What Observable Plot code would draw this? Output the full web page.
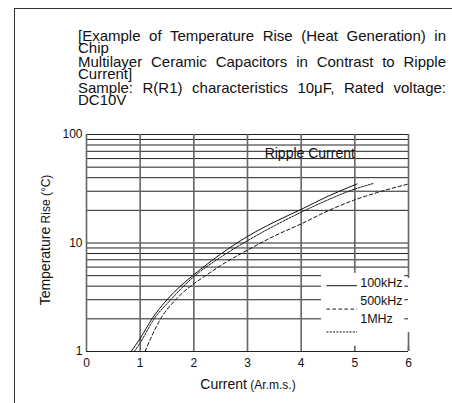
<!DOCTYPE html>
<html><head><meta charset="utf-8">
<script src="https://cdn.jsdelivr.net/npm/d3@7"></script>
<script src="https://cdn.jsdelivr.net/npm/@observablehq/plot@0.6"></script>
<style>
html,body{margin:0;padding:0;background:#fff;}
#wrap{position:relative;width:452px;height:403px;overflow:hidden;font-family:"Liberation Sans",Arial,sans-serif;}
#frame{position:absolute;left:14px;top:8px;width:600px;height:600px;border-top:1.5px solid #333;border-left:1.5px solid #333;}
.t{position:absolute;left:78px;width:368px;font-size:15px;line-height:15px;color:#111;white-space:nowrap;}
.j{text-align:justify;text-align-last:justify;}
#chart{position:absolute;left:0;top:0;}
</style></head>
<body><div id="wrap"><div id="frame"></div><div id="chart"></div><div id="title"></div></div>
<script>
// ---- data ----
const titleLines = [
  "[Example of Temperature Rise (Heat Generation) in",
  "Chip",
  "Multilayer Ceramic Capacitors in Contrast to Ripple",
  "Current]",
  "Sample: R(R1) characteristics 10\u03bcF, Rated voltage:",
  "DC10V"
];
const freqLabels = ["100kHz", "500kHz", "1MHz"];
const x100k = [0.83, 1.0, 1.22, 1.5, 1.75, 2.0, 2.5, 3.0, 3.5, 4.0, 4.5, 5.04];
const y100k = [1.0, 1.32, 2.0, 3.0, 4.0, 5.1, 7.9, 11.5, 15.6, 20.4, 27.0, 35.0];
const x1M   = [0.89, 1.0, 1.26, 1.57, 2.0, 2.5, 3.0, 3.5, 4.0, 4.5, 5.0, 5.35];
const y1M   = [1.0, 1.2, 2.0, 3.0, 4.9, 7.4, 10.5, 14.4, 19.2, 25.0, 31.4, 35.4];
const x500k = [1.09, 1.38, 1.66, 1.94, 2.22, 2.5, 3.0, 3.5, 4.0, 4.5, 5.0, 5.5, 6.0];
const y500k = [1.0, 2.0, 3.0, 4.0, 5.0, 6.2, 8.6, 11.6, 15.0, 19.8, 25.0, 30.0, 35.0];
const xTicks = [0, 1, 2, 3, 4, 5, 6];
const yTicks = [1, 10, 100];
const yGrid = [1,2,3,4,5,6,7,8,9,10,20,30,40,50,60,70,80,90,100];
const annotation = "Ripple Current";
const xLabel = ["Current", " (Ar.m.s.)"];
const yLabel = ["Temperature", " Rise (\u00b0C)"];

// ---- title ----
const tops = [28, 40, 54, 66, 80, 92];
const tdiv = document.getElementById("title");
titleLines.forEach((s, i) => {
  const d = document.createElement("div");
  d.className = "t" + (i % 2 === 0 ? " j" : "");
  d.style.top = tops[i] + "px";
  d.textContent = s;
  tdiv.appendChild(d);
});

const toRows = (xs, ys) => xs.map((x, i) => ({x, y: ys[i]}));
const r100k = toRows(x100k, y100k);
const r500k = toRows(x500k, y500k);
const r1M = toRows(x1M, y1M);

const lineStyle = {x: "x", y: "y", stroke: "#111", strokeWidth: 1, curve: "monotone-x"};
const legendBox = [{x1: 4.38, x2: 6.04, y1: 1.12, y2: 5.25}];
const legendRows = [
  {lab: freqLabels[0], ly: 4.04, ty: 4.3},
  {lab: freqLabels[1], ly: 2.46, ty: 2.94},
  {lab: freqLabels[2], ly: 1.515, ty: 1.99}
];

const plot = Plot.plot({
  width: 452, height: 403,
  marginLeft: 86, marginRight: 44, marginTop: 134, marginBottom: 52,
  style: {fontFamily: "'Liberation Sans', Arial, sans-serif", fontSize: "12px", color: "#111", background: "transparent"},
  x: {domain: [0, 6]},
  y: {type: "log", domain: [1, 100]},
  marks: [
    Plot.ruleY(yGrid, {stroke: "#222", strokeWidth: 1}),
    Plot.ruleX(xTicks, {stroke: "#666", strokeWidth: 1.6}),
    Plot.rect(legendBox, {x1: "x1", x2: "x2", y1: "y1", y2: "y2", fill: "white", clip: false}),
    Plot.ruleY([5, 4, 3, 2], {x1: () => 5.93, x2: () => 6, stroke: "#222", strokeWidth: 1}),
    Plot.ruleX([6], {y1: () => 1, y2: () => 1.5, stroke: "#666", strokeWidth: 1.6}),
    Plot.ruleX([6], {y1: () => 4.7, y2: () => 5.25, stroke: "#666", strokeWidth: 1.6}),
    Plot.line(r100k, lineStyle),
    Plot.line(r1M, {...lineStyle, strokeDasharray: "2,1.3"}),
    Plot.line(r500k, {...lineStyle, strokeDasharray: "3.5,2.5"}),
    Plot.ruleY([legendRows[0]], {y: "ly", x1: () => 4.48, x2: () => 5.05, stroke: "#111", strokeWidth: 1}),
    Plot.ruleY([legendRows[1]], {y: "ly", x1: () => 4.48, x2: () => 5.05, stroke: "#111", strokeWidth: 1, strokeDasharray: "3.5,2.5"}),
    Plot.ruleY([legendRows[2]], {y: "ly", x1: () => 4.48, x2: () => 5.05, stroke: "#111", strokeWidth: 1, strokeDasharray: "2,1.3"}),
    Plot.text(legendRows, {x: () => 5.1, y: "ty", text: "lab", textAnchor: "start", fontSize: 12.5, fill: "#111"}),
    Plot.text([annotation], {x: () => 4.16, y: () => 67, text: d => d, fontSize: 14, fill: "#111"}),
    Plot.axisX(xTicks, {tickSize: 0, tickPadding: 7, fontSize: 12, label: null}),
    Plot.axisY(yTicks, {tickSize: 0, tickPadding: 4, fontSize: 12, tickFormat: d => String(d), label: null})
  ]
});
document.getElementById("chart").appendChild(plot);

const svg = d3.select(plot);
const xl = svg.append("text").attr("x", 248).attr("y", 389).attr("text-anchor", "middle").attr("fill", "#111");
xl.append("tspan").attr("font-size", 14).text(xLabel[0]);
xl.append("tspan").attr("font-size", 12).text(xLabel[1]);
const yl = svg.append("text").attr("transform", "translate(50,240) rotate(-90)").attr("text-anchor", "middle").attr("fill", "#111");
yl.append("tspan").attr("font-size", 14).text(yLabel[0]);
yl.append("tspan").attr("font-size", 12).text(yLabel[1]);
</script>
</body></html>
